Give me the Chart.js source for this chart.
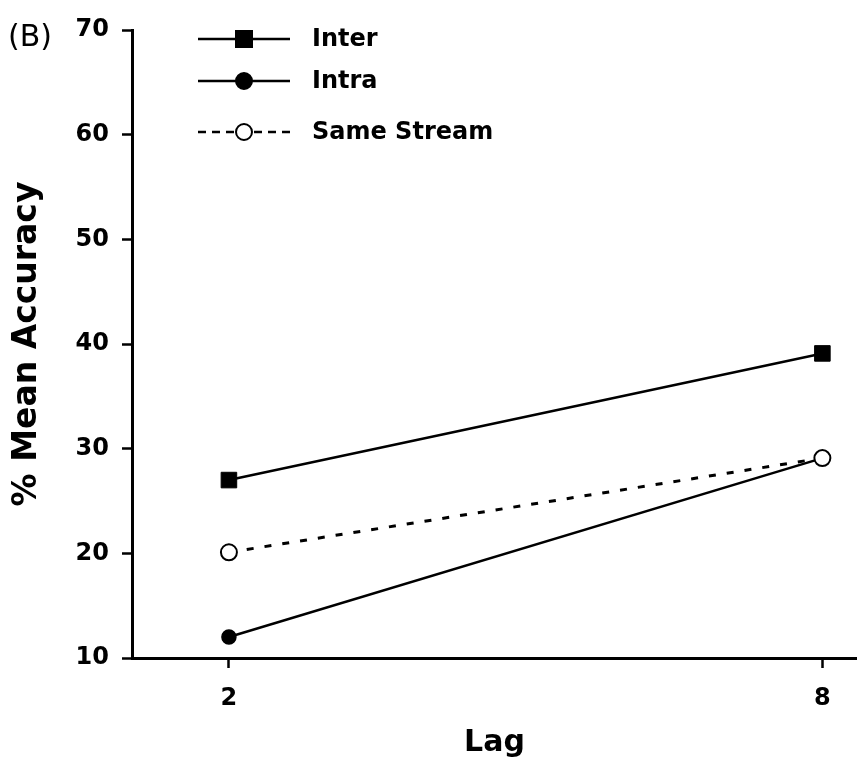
<!DOCTYPE html>
<html lang="en">
<head>
  <meta charset="UTF-8" />
  <title>Mean Accuracy by Lag</title>
  <script src="https://cdn.jsdelivr.net/npm/chart.js"></script>
  <style>
    html, body { margin: 0; padding: 0; background: #fff; overflow: hidden; }
    canvas { display: block; }
  </style>
</head>
<body>
  <canvas id="accChart" width="857" height="761"></canvas>

  <script>
    // data
    const lags = [2, 8];
    const interAcc = [27.0, 39.1];
    const intraAcc = [12.0, 29.1];
    const sameAcc = [20.1, 29.1];
    const yTicks = [10, 20, 30, 40, 50, 60, 70];
    const seriesNames = ['Inter', 'Intra', 'Same Stream'];

    const FONT = '"DejaVu Sans", Arial, sans-serif';

    function pts(vals) {
      return lags.map((x, i) => ({ x: x, y: vals[i] }));
    }

    // panel letter + legend drawn on the canvas
    const extras = {
      id: 'extras',
      afterDraw(chart) {
        const ctx = chart.ctx;
        ctx.save();
        ctx.fillStyle = '#000';
        ctx.font = '30px ' + FONT;
        ctx.textBaseline = 'middle';
        ctx.textAlign = 'left';
        ctx.fillText('(B)', 8, 38);

        const rows = [39, 81, 132];
        chart.data.datasets.forEach((ds, i) => {
          const y = rows[i];
          ctx.strokeStyle = '#000';
          ctx.lineWidth = 2.5;
          ctx.setLineDash(ds.borderDash ? [8, 6] : []);
          ctx.beginPath();
          ctx.moveTo(198, y);
          ctx.lineTo(290, y);
          ctx.stroke();
          ctx.setLineDash([]);
          ctx.lineWidth = 2;
          ctx.fillStyle = ds.pointBackgroundColor;
          ctx.beginPath();
          if (ds.pointStyle === 'rect') {
            ctx.rect(244 - 8, y - 8, 16, 16);
          } else {
            ctx.arc(244, y, 8, 0, Math.PI * 2);
          }
          ctx.fill();
          ctx.stroke();

          ctx.fillStyle = '#000';
          ctx.font = 'bold 24px ' + FONT;
          ctx.fillText(ds.label, 312, y + 1);
        });
        ctx.restore();
      }
    };

    new Chart(document.getElementById('accChart'), {
      type: 'line',
      data: {
        datasets: [
          {
            label: seriesNames[0],
            data: pts(interAcc),
            borderColor: '#000',
            borderWidth: 2.5,
            pointStyle: 'rect',
            pointRadius: 11,
            pointBorderWidth: 1,
            pointBackgroundColor: '#000',
            pointBorderColor: '#000'
          },
          {
            label: seriesNames[1],
            data: pts(intraAcc),
            borderColor: '#000',
            borderWidth: 2.5,
            pointStyle: 'circle',
            pointRadius: 7,
            pointBorderWidth: 1.5,
            pointBackgroundColor: '#000',
            pointBorderColor: '#000'
          },
          {
            label: seriesNames[2],
            data: pts(sameAcc),
            borderColor: '#000',
            borderWidth: 3,
            borderDash: [7, 11],
            pointStyle: 'circle',
            pointRadius: 8,
            pointBorderWidth: 2,
            pointBackgroundColor: '#fff',
            pointBorderColor: '#000',
            order: -1
          }
        ]
      },
      options: {
        responsive: false,
        animation: false,
        layout: { autoPadding: false, padding: { top: 30, right: 0, left: 0, bottom: 0 } },
        plugins: {
          legend: { display: false },
          tooltip: { enabled: false }
        },
        scales: {
          x: {
            type: 'linear',
            min: 1.02,
            max: 8.35,
            afterBuildTicks: s => { s.ticks = lags.map(v => ({ value: v })); },
            afterFit: s => { s.height = 103; s.paddingLeft = 0; s.paddingRight = 0; },
            border: { color: '#000', width: 3 },
            grid: { drawOnChartArea: false, drawTicks: true, tickLength: 10, tickWidth: 2.5, tickColor: '#000' },
            ticks: { color: '#000', padding: 16, font: { family: FONT, size: 24, weight: 'bold' } },
            title: {
              display: true,
              text: 'Lag',
              color: '#000',
              padding: { top: 24, bottom: 0 },
              font: { family: FONT, size: 30, weight: 'bold' }
            }
          },
          y: {
            min: 10,
            max: 70,
            afterBuildTicks: s => { s.ticks = yTicks.map(v => ({ value: v })); },
            afterFit: s => { s.width = 132; },
            border: { color: '#000', width: 3 },
            grid: { drawOnChartArea: false, drawTicks: true, tickLength: 10, tickWidth: 2.5, tickColor: '#000' },
            ticks: { color: '#000', padding: 13, font: { family: FONT, size: 24, weight: 'bold' } },
            title: {
              display: true,
              text: '% Mean Accuracy',
              color: '#000',
              padding: { top: 8, bottom: 0 },
              font: { family: FONT, size: 33, weight: 'bold' }
            }
          }
        }
      },
      plugins: [extras]
    });
  </script>
</body>
</html>
